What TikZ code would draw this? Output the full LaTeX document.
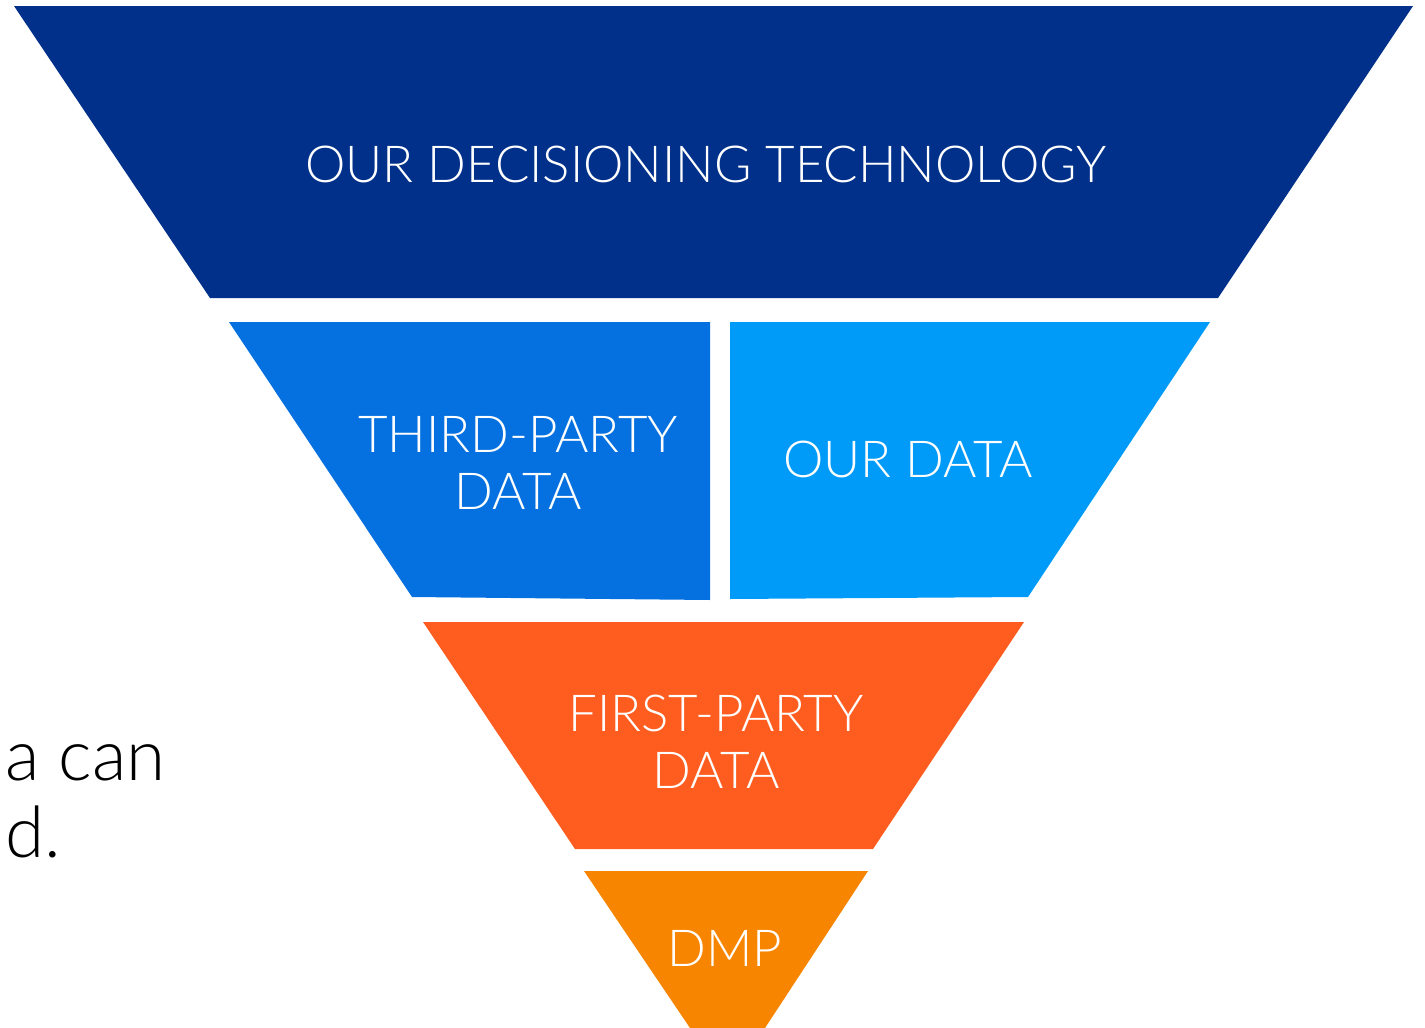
\documentclass[tikz,border=0pt]{standalone}
\usepackage{fontspec}
\setmainfont{Lato Light}
\definecolor{cTop}{HTML}{00308A}
\definecolor{cThird}{HTML}{0570E0}
\definecolor{cOur}{HTML}{009AF8}
\definecolor{cFirst}{HTML}{FF5C1F}
\definecolor{cDmp}{HTML}{F88500}
\begin{document}
\begin{tikzpicture}[x=1pt,y=-1pt,
  lbl/.style={text=white,font=\fontsize{51}{57}\selectfont,align=center,inner sep=0pt},
  side/.style={text=black,font=\fontsize{71}{77}\selectfont,inner sep=0pt,anchor=base west}]
\useasboundingbox (0,0) rectangle (1425,1028);
\fill[cTop] (14,6) -- (1413,6) -- (1218,298) -- (210,298) -- cycle;
\fill[cThird] (229,322) -- (710,322) -- (710,600) -- (412,597) -- cycle;
\fill[cOur] (730,322) -- (1210,322) -- (1028,597) -- (730,599) -- cycle;
\fill[cFirst] (423,622) -- (1024,622) -- (873,849) -- (575,849) -- cycle;
\fill[cDmp] (584,871) -- (868,871) -- (765,1028) -- (690,1028) -- cycle;
\node[lbl] (t1) at (706,164) {OUR DECISIONING TECHNOLOGY};
\node[lbl] (t2) at (518,463) {THIRD-PARTY\\DATA};
\node[lbl] (t3) at (908,459) {OUR DATA};
\node[lbl] (t4) at (716,742) {FIRST-PARTY\\DATA};
\node[lbl] (t5) at (725,948) {DMP};
\node[side] (s1) at (5,780) {a can};
\node[side] (s2) at (5,857) {d.};
\end{tikzpicture}
\end{document}
